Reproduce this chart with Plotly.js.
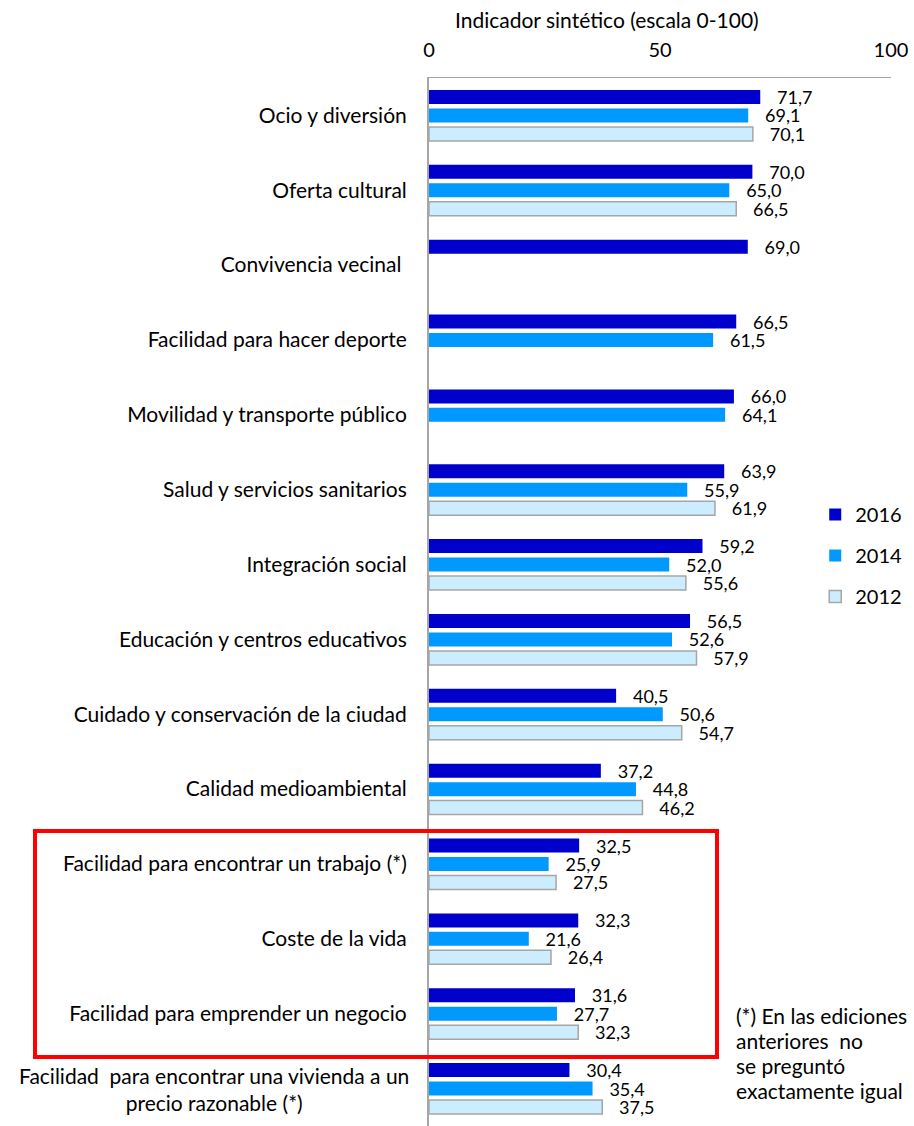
<!DOCTYPE html>
<html>
<head>
<meta charset="utf-8">
<script src="https://cdn.plot.ly/plotly-3.0.1.min.js"></script>
<style>html,body{margin:0;padding:0;background:#fff;}#chart{width:914px;height:1126px;}</style>
</head>
<body>
<div id="chart"></div>
<script>
const categories = [
  "Ocio y diversión",
  "Oferta cultural",
  "Convivencia vecinal ",
  "Facilidad para hacer deporte",
  "Movilidad y transporte público",
  "Salud y servicios sanitarios",
  "Integración social",
  "Educación y centros educativos",
  "Cuidado y conservación de la ciudad",
  "Calidad medioambiental",
  "Facilidad para encontrar un trabajo (*)",
  "Coste de la vida",
  "Facilidad para emprender un negocio",
  "Facilidad  para encontrar una vivienda a un<br>precio razonable (*)"
];
const values2016 = [71.7, 70.0, 69.0, 66.5, 66.0, 63.9, 59.2, 56.5, 40.5, 37.2, 32.5, 32.3, 31.6, 30.4];
const values2014 = [69.1, 65.0, null, 61.5, 64.1, 55.9, 52.0, 52.6, 50.6, 44.8, 25.9, 21.6, 27.7, 35.4];
const values2012 = [70.1, 66.5, null, null, null, 61.9, 55.6, 57.9, 54.7, 46.2, 27.5, 26.4, 32.3, 37.5];
const seriesNames = ["2016", "2014", "2012"];
const xTicks = [0, 50, 100];
const xTitle = "Indicador sintético (escala 0-100)";
const footnoteLines = ["(*) En las ediciones", "anteriores  no", "se preguntó", "exactamente igual"];

const FONT = "Lato, 'Open Sans', sans-serif";
const pad = "\u00a0\u00a0\u00a0";

function mk(vals, name, color, lineColor, lineWidth) {
  return {
    type: "bar", orientation: "h",
    x: vals, y: categories.map((c, i) => i),
    name: name, legendgroup: name,
    marker: {color: color, line: {color: lineColor, width: lineWidth}},
    text: vals.map(v => v === null ? "" : pad + v.toFixed(1).replace(".", ",")),
    textposition: "outside",
    textfont: {family: FONT, size: 18, color: "#000"},
    constraintext: "none",
    cliponaxis: false,
    hoverinfo: "skip"
  };
}

const data = [
  mk(values2016, seriesNames[0], "#0000CC", "#0000CC", 0),
  mk(values2014, seriesNames[1], "#0099FF", "#0099FF", 0),
  mk(values2012, seriesNames[2], "#CCECFF", "#A6A6A6", 1.5)
];

const tickText = categories.map((c, i) => i === categories.length - 1 ? "" : c);

// helpers to convert pixel positions of the reference layout to paper coords
const plotTop = 78, plotH = 1048, plotLeft = 429, plotW = 462;
const py = v => 1 - (v - plotTop) / plotH;
const px = v => (v - plotLeft) / plotW;

const annotations = [
  {
    xref: "paper", yref: "y", x: -0.04, y: categories.length - 1,
    xanchor: "right", yanchor: "middle", align: "center",
    text: categories[categories.length - 1], showarrow: false,
    font: {family: FONT, size: 21, color: "#000"}
  },
  {
    xref: "paper", yref: "paper", x: px(607), y: py(20),
    xanchor: "center", yanchor: "middle",
    text: xTitle, showarrow: false,
    font: {family: FONT, size: 21, color: "#000"}
  }
];
const lineY = [1015, 1040, 1065, 1090];
footnoteLines.forEach((t, i) => annotations.push({
  xref: "paper", yref: "paper", x: px(734), y: py(lineY[i]),
  xanchor: "left", yanchor: "middle", align: "left",
  text: t, showarrow: false,
  font: {family: FONT, size: 21, color: "#000"}
}));

const layout = {
  width: 914, height: 1126,
  margin: {l: 429, r: 23, t: 78, b: 0},
  paper_bgcolor: "#fff", plot_bgcolor: "#fff",
  font: {family: FONT, color: "#000"},
  barmode: "group",
  bargap: 0.26,
  bargroupgap: 0.24,
  showlegend: true,
  legend: {
    x: 0.836, y: 0.602, xanchor: "left", yanchor: "top",
    font: {family: FONT, size: 20, color: "#000"},
    bgcolor: "rgba(0,0,0,0)",
    traceorder: "grouped", tracegroupgap: 12,
    itemwidth: 30
  },
  xaxis: {
    side: "top", range: [0, 100], fixedrange: true,
    tickvals: xTicks, ticktext: xTicks.map(String),
    showgrid: false, zeroline: false,
    showline: true, linecolor: "#A6A6A6", linewidth: 1.5,
    ticks: "", ticklabelstandoff: 12,
    tickfont: {family: FONT, size: 20, color: "#000"}
  },
  yaxis: {
    autorange: false, range: [13.5, -0.5],
    tickmode: "array", tickvals: categories.map((c, i) => i), ticktext: tickText,
    showgrid: false, zeroline: false,
    showline: true, linecolor: "#A6A6A6", linewidth: 2,
    ticks: "", ticklabelstandoff: 16,
    tickfont: {family: FONT, size: 21, color: "#000"}
  },
  annotations: annotations,
  shapes: [
    {
      type: "rect", xref: "paper", yref: "paper",
      x0: px(35), x1: px(717), y0: py(1057), y1: py(831),
      line: {color: "#FF0000", width: 4}, fillcolor: "rgba(0,0,0,0)"
    }
  ]
};

Plotly.newPlot("chart", data, layout, {displayModeBar: false, staticPlot: true});
</script>
</body>
</html>
